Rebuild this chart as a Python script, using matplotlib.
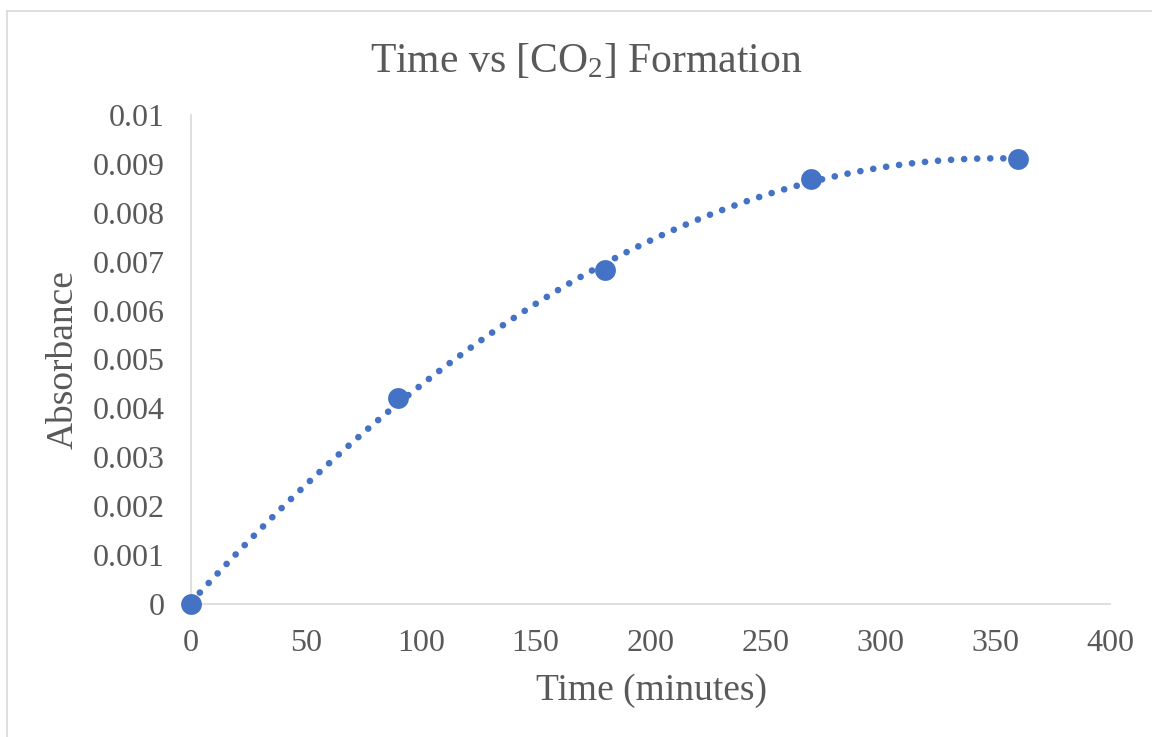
import numpy as np
import matplotlib
matplotlib.use("Agg")
import matplotlib.pyplot as plt
from matplotlib.lines import Line2D

time_min = [0, 90, 180, 270, 360]
absorbance = [0.0, 0.00421, 0.00683, 0.00869, 0.0091]
x_ticks = [0, 50, 100, 150, 200, 250, 300, 350, 400]
y_ticks = [0, 0.001, 0.002, 0.003, 0.004, 0.005, 0.006, 0.007, 0.008, 0.009, 0.01]
y_tick_labels = ["0", "0.001", "0.002", "0.003", "0.004", "0.005", "0.006",
                 "0.007", "0.008", "0.009", "0.01"]

plt.rcParams['font.family'] = ['Liberation Serif', 'DejaVu Serif']
plt.rcParams['mathtext.fontset'] = 'custom'
plt.rcParams['mathtext.rm'] = 'Liberation Serif'
plt.rcParams['mathtext.it'] = 'Liberation Serif:italic'

blue = '#4472c4'
txt = '#595959'
grid_c = '#d9d9d9'

fig = plt.figure(figsize=(11.52, 7.37), dpi=100)
W, H = 1152, 737
ax = fig.add_axes([191 / W, 1 - 604 / H, (1110 - 191) / W, (604 - 115) / H])

# polynomial (order 2) trendline
coef = np.polyfit(time_min, absorbance, 2)
xs = np.linspace(0, 360, 400)
ax.plot(xs, np.polyval(coef, xs), color=blue, lw=4.8,
        linestyle=(0, (0.01, 1.95)), dash_capstyle='round', zorder=2)
sc = ax.scatter(time_min, absorbance, s=15 ** 2, color=blue, zorder=3, linewidths=0)
sc.set_clip_on(False)

ax.set_xlim(0, 400)
ax.set_ylim(0, 0.01)
ax.set_xticks(x_ticks)
ax.set_xticklabels([str(v) for v in x_ticks])
ax.set_yticks(y_ticks)
ax.set_yticklabels(y_tick_labels)
for s in ['top', 'right']:
    ax.spines[s].set_visible(False)
for s in ['left', 'bottom']:
    ax.spines[s].set_color(grid_c)
    ax.spines[s].set_linewidth(1.2)
ax.tick_params(length=0, labelsize=23, colors=txt)
ax.tick_params(axis='y', pad=19)
ax.tick_params(axis='x', pad=18)

fig.text(651 / W, 1 - 691 / H, 'Time (minutes)', fontsize=27, color=txt,
         ha='center', va='center')
fig.text(63 / W, 1 - 360 / H, 'Absorbance', fontsize=27, color=txt,
         ha='center', va='center', rotation=90)
fig.text(586 / W, 1 - 61 / H, 'Time vs [CO$_2$] Formation', fontsize=30, color=txt,
         ha='center', va='center')

# chart-area border (only top and left edges fall inside the image)
fig.add_artist(Line2D([7 / W, 7 / W], [0, 1 - 11 / H], transform=fig.transFigure,
                      color=grid_c, lw=1.2))
fig.add_artist(Line2D([7 / W, 1], [1 - 11 / H, 1 - 11 / H], transform=fig.transFigure,
                      color=grid_c, lw=1.2))

fig.savefig('out.png', dpi=100, facecolor='white')
